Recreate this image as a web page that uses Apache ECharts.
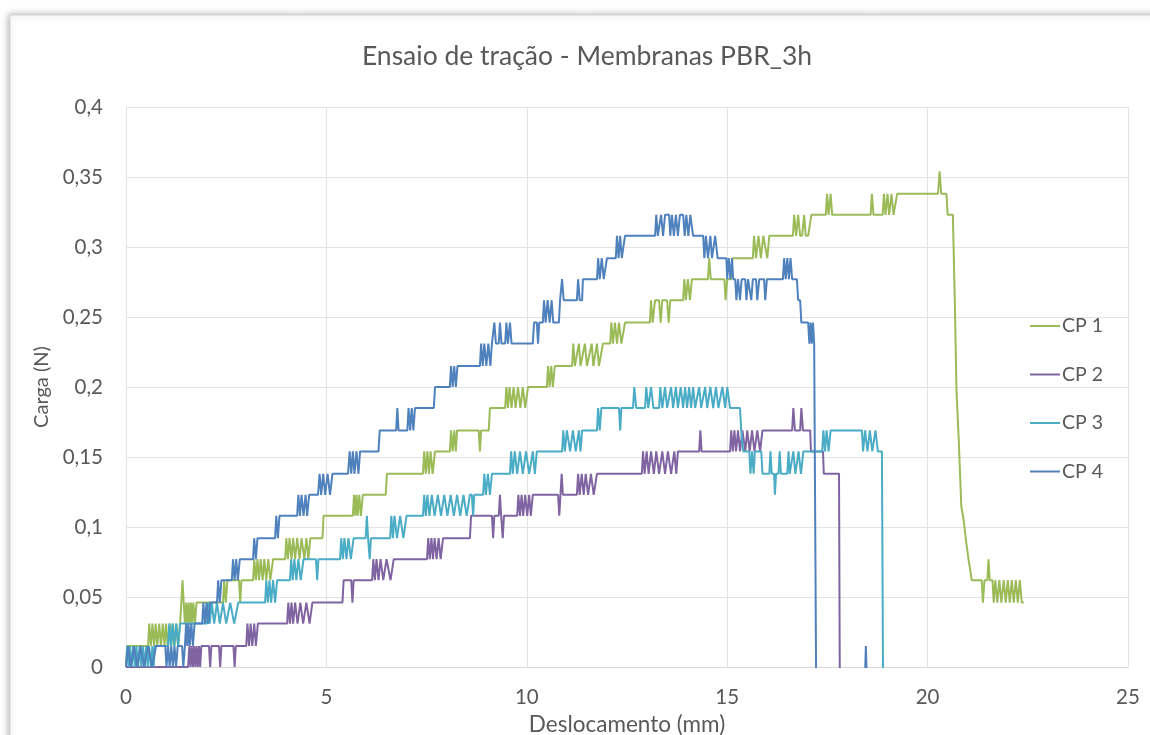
<!DOCTYPE html>
<html>
<head>
<meta charset="utf-8">
<script src="https://cdn.jsdelivr.net/npm/echarts@6/dist/echarts.min.js"></script>
<style>
html,body{margin:0;padding:0;background:#fff;}
#chart{width:1150px;height:735px;}
</style>
</head>
<body>
<div id="chart"></div>
<script>
var seriesNames = ['CP 1', 'CP 2', 'CP 3', 'CP 4'];
var xTicks = [0, 5, 10, 15, 20, 25];
var yTicks = [0, 0.05, 0.1, 0.15, 0.2, 0.25, 0.3, 0.35, 0.4];

var cp1 = [
[0,0],[0.03,0.015],
[0.55,0.015],[0.58,0.031],[0.62,0.015],[0.66,0.031],[0.7,0.015],[0.74,0.031],[0.78,0.015],[0.83,0.031],[0.87,0.015],[0.92,0.031],[0.96,0.015],[1.0,0.031],[1.04,0.015],[1.09,0.031],[1.13,0.015],[1.17,0.031],[1.21,0.015],[1.26,0.031],[1.3,0.015],[1.35,0.031],
[1.38,0.046],[1.41,0.062],[1.44,0.046],[1.47,0.031],[1.5,0.046],[1.53,0.031],[1.56,0.046],[1.59,0.031],[1.62,0.046],[1.65,0.031],[1.68,0.046],[1.72,0.031],[1.76,0.046],
[2.42,0.046],[2.45,0.062],[2.49,0.046],[2.53,0.062],[2.59,0.062],[2.82,0.062],[2.85,0.046],[2.88,0.062],
[3.17,0.062],[3.2,0.077],[3.24,0.062],[3.28,0.077],[3.32,0.062],[3.36,0.077],[3.41,0.062],[3.45,0.077],[3.5,0.062],[3.55,0.077],[3.6,0.062],[3.67,0.077],
[3.97,0.077],[4.0,0.092],[4.04,0.077],[4.08,0.092],[4.13,0.077],[4.17,0.092],[4.22,0.077],[4.27,0.092],[4.33,0.077],[4.38,0.092],[4.45,0.077],[4.5,0.092],[4.55,0.077],[4.6,0.092],[4.67,0.092],
[4.9,0.092],[4.93,0.108],
[5.66,0.108],[5.69,0.123],[5.72,0.108],[5.75,0.123],[5.78,0.108],[5.82,0.123],[5.86,0.108],[5.91,0.123],
[6.48,0.123],[6.51,0.138],
[7.41,0.138],[7.44,0.154],[7.48,0.138],[7.52,0.154],[7.56,0.138],[7.6,0.154],[7.65,0.138],[7.71,0.154],
[8.08,0.154],[8.11,0.169],[8.15,0.154],[8.19,0.169],[8.23,0.154],[8.26,0.169],
[8.8,0.169],[8.83,0.154],[8.86,0.169],[9.05,0.169],[9.08,0.185],
[9.46,0.185],[9.49,0.2],[9.53,0.185],[9.57,0.2],[9.62,0.185],[9.67,0.2],[9.72,0.185],[9.78,0.2],[9.84,0.185],[9.9,0.2],[9.96,0.185],[10.03,0.2],
[10.5,0.2],[10.53,0.215],[10.57,0.2],[10.61,0.215],[10.65,0.2],[10.7,0.215],[10.8,0.215],
[11.13,0.215],[11.16,0.231],[11.2,0.215],[11.3,0.231],[11.34,0.215],[11.45,0.231],[11.5,0.215],[11.62,0.231],[11.66,0.215],[11.75,0.231],[11.8,0.215],[11.9,0.231],
[12.08,0.231],[12.11,0.246],[12.15,0.231],[12.2,0.246],[12.25,0.231],[12.3,0.246],[12.36,0.231],[12.45,0.246],
[13.07,0.246],[13.1,0.262],[13.14,0.246],[13.2,0.262],[13.3,0.262],[13.34,0.246],[13.38,0.262],[13.5,0.262],[13.54,0.246],[13.58,0.262],
[13.9,0.262],[13.93,0.277],[13.97,0.262],[14.02,0.277],[14.07,0.262],[14.12,0.277],[14.2,0.277],
[14.52,0.277],[14.55,0.292],[14.59,0.277],[14.93,0.277],[14.96,0.262],[15.0,0.277],[15.1,0.277],[15.13,0.292],
[15.64,0.292],[15.67,0.308],[15.72,0.292],[15.78,0.308],[15.84,0.292],[15.9,0.308],[16.0,0.292],[16.05,0.308],[16.12,0.308],
[16.64,0.308],[16.67,0.323],[16.72,0.308],[16.77,0.323],[16.82,0.308],[16.87,0.308],[16.92,0.323],[16.96,0.308],[17.02,0.308],[17.1,0.323],
[17.46,0.323],[17.49,0.338],[17.53,0.323],[17.58,0.338],[17.62,0.323],
[18.58,0.323],[18.61,0.338],[18.65,0.323],
[18.88,0.323],[18.91,0.338],[18.95,0.323],[19.0,0.338],[19.04,0.323],[19.1,0.338],[19.15,0.323],[19.24,0.338],
[20.26,0.338],[20.3,0.354],[20.34,0.338],[20.47,0.338],[20.5,0.323],[20.63,0.323],
[20.68,0.26],[20.72,0.198],[20.78,0.16],[20.84,0.115],[20.9,0.105],[20.96,0.09],[21.02,0.077],[21.06,0.07],[21.1,0.062],
[21.35,0.062],[21.38,0.046],[21.42,0.062],[21.49,0.062],[21.52,0.077],[21.55,0.062],[21.62,0.062],[21.65,0.046],[21.69,0.062],[21.74,0.046],[21.79,0.062],[21.84,0.046],[21.9,0.062],[21.95,0.046],[22.0,0.062],[22.05,0.046],[22.1,0.062],[22.15,0.046],[22.2,0.062],[22.25,0.046],[22.3,0.062],[22.35,0.046],[22.4,0.046]
];

var cp2 = [
[0,0],[1.55,0],[1.58,0.015],[1.61,0],[1.64,0.015],[1.67,0],[1.7,0.015],[1.73,0],[1.76,0.015],[1.79,0],[1.82,0.015],[1.85,0],[1.88,0.015],
[2.07,0.015],[2.1,0],[2.13,0.015],[2.32,0.015],[2.35,0],[2.38,0.015],[2.68,0.015],[2.71,0],[2.74,0.015],
[3.0,0.015],[3.03,0.031],[3.07,0.015],[3.11,0.031],[3.15,0.015],[3.2,0.031],[3.24,0.015],[3.29,0.031],
[4.02,0.031],[4.05,0.046],[4.09,0.031],[4.13,0.046],[4.17,0.031],[4.22,0.046],[4.28,0.031],[4.35,0.046],[4.42,0.031],[4.5,0.046],[4.58,0.031],[4.65,0.046],[4.72,0.046],
[5.4,0.046],[5.43,0.062],[5.62,0.062],[5.65,0.046],[5.68,0.062],
[6.14,0.062],[6.17,0.077],[6.21,0.062],[6.25,0.077],[6.3,0.062],[6.35,0.077],[6.42,0.062],[6.5,0.077],[6.6,0.062],[6.68,0.077],[6.76,0.077],
[7.51,0.077],[7.54,0.092],[7.58,0.077],[7.62,0.092],[7.66,0.077],[7.7,0.092],[7.75,0.077],[7.8,0.092],[7.85,0.077],[7.91,0.092],
[8.58,0.092],[8.61,0.108],[8.66,0.108],
[9.13,0.108],[9.16,0.092],[9.19,0.108],[9.3,0.108],[9.33,0.123],[9.36,0.108],[9.4,0.092],[9.43,0.108],
[9.76,0.108],[9.79,0.123],[9.83,0.108],[9.87,0.123],[9.91,0.108],[9.96,0.123],[10.01,0.108],[10.06,0.123],[10.1,0.108],[10.15,0.123],
[10.78,0.123],[10.81,0.108],[10.84,0.123],[10.87,0.138],[10.9,0.123],
[11.25,0.123],[11.28,0.138],[11.32,0.123],[11.37,0.138],[11.42,0.123],[11.47,0.138],[11.53,0.123],[11.6,0.138],[11.67,0.123],[11.75,0.138],
[12.87,0.138],[12.9,0.154],[12.94,0.138],[12.99,0.154],[13.04,0.138],[13.1,0.154],[13.17,0.138],[13.23,0.154],[13.3,0.138],[13.38,0.154],[13.45,0.138],[13.52,0.154],[13.6,0.138],[13.68,0.154],[13.73,0.138],[13.77,0.154],
[14.3,0.154],[14.33,0.169],[14.36,0.154],
[15.07,0.154],[15.1,0.169],[15.14,0.154],[15.18,0.169],[15.22,0.154],[15.27,0.169],[15.32,0.154],[15.38,0.169],[15.45,0.154],[15.5,0.169],[15.56,0.154],[15.62,0.169],[15.68,0.154],[15.75,0.169],[15.82,0.154],[15.88,0.169],[15.94,0.169],
[16.62,0.169],[16.65,0.185],[16.69,0.169],[16.82,0.169],[16.85,0.185],[16.89,0.169],[17.07,0.169],[17.09,0.154],[17.39,0.154],[17.41,0.138],[17.79,0.138],[17.81,-0.015]
];

var cp3 = [
[0,0],[0.03,0.015],[0.07,0],[0.1,0.015],[0.14,0],[0.18,0.015],[0.22,0],[0.26,0.015],[0.3,0],[0.34,0.015],[0.38,0],[0.42,0.015],[0.46,0],[0.5,0.015],[0.54,0],[0.58,0.015],[0.62,0],[0.66,0.015],[0.69,0],[0.72,0.015],
[1.05,0.015],[1.08,0.031],[1.12,0.015],[1.16,0.031],[1.2,0.015],[1.25,0.031],[1.3,0.015],[1.35,0.031],[1.4,0.031],
[2.02,0.031],[2.05,0.046],[2.09,0.031],[2.14,0.046],[2.2,0.031],[2.27,0.046],[2.34,0.031],[2.42,0.046],[2.5,0.031],[2.6,0.046],[2.7,0.031],[2.8,0.046],[2.84,0.046],
[3.47,0.046],[3.5,0.062],[3.54,0.046],[3.58,0.062],[3.62,0.046],[3.67,0.062],[3.72,0.046],[3.77,0.062],
[4.09,0.062],[4.12,0.077],[4.16,0.062],[4.2,0.077],[4.25,0.062],[4.3,0.077],[4.36,0.062],[4.43,0.077],[4.52,0.077],
[4.74,0.077],[4.77,0.062],[4.8,0.077],
[5.34,0.077],[5.37,0.092],[5.41,0.077],[5.45,0.092],[5.5,0.077],[5.55,0.092],[5.61,0.077],[5.68,0.092],[5.76,0.092],
[5.98,0.092],[6.01,0.108],[6.04,0.092],[6.08,0.077],[6.11,0.092],
[6.59,0.092],[6.62,0.108],[6.66,0.092],[6.7,0.108],[6.76,0.092],[6.84,0.108],[6.92,0.092],[7.0,0.108],[7.09,0.108],
[7.41,0.108],[7.44,0.123],[7.48,0.108],[7.52,0.123],[7.57,0.108],[7.63,0.123],[7.7,0.108],[7.78,0.123],[7.86,0.108],[7.94,0.123],[8.02,0.108],[8.1,0.123],[8.18,0.108],[8.26,0.123],[8.34,0.108],[8.42,0.123],[8.5,0.108],[8.58,0.123],
[8.63,0.123],[8.66,0.108],[8.69,0.123],
[8.91,0.123],[8.94,0.138],[8.98,0.123],[9.03,0.138],[9.08,0.123],[9.13,0.138],
[9.58,0.138],[9.61,0.154],[9.65,0.138],[9.7,0.154],[9.76,0.138],[9.83,0.154],[9.9,0.138],[9.98,0.154],[10.06,0.138],[10.15,0.154],[10.2,0.138],[10.25,0.154],
[10.88,0.154],[10.91,0.169],[10.95,0.154],[11.0,0.169],[11.08,0.154],[11.15,0.169],[11.22,0.154],[11.3,0.169],[11.34,0.154],[11.38,0.169],
[11.75,0.169],[11.78,0.185],[11.82,0.169],[11.86,0.185],[11.9,0.185],
[12.3,0.185],[12.33,0.169],[12.36,0.185],
[12.65,0.185],[12.68,0.2],[12.73,0.185],[12.95,0.185],[12.98,0.2],[13.03,0.185],[13.1,0.2],[13.16,0.185],[13.3,0.185],[13.33,0.2],[13.38,0.185],[13.45,0.2],[13.5,0.185],[13.6,0.2],[13.65,0.185],[13.72,0.2],[13.77,0.185],[13.84,0.2],[13.9,0.185],[13.95,0.2],[14.0,0.185],[14.05,0.2],[14.1,0.185],[14.15,0.2],[14.2,0.185],[14.3,0.2],[14.35,0.185],[14.45,0.2],[14.5,0.185],[14.58,0.2],[14.65,0.185],[14.72,0.2],[14.78,0.185],[14.88,0.2],[14.95,0.185],[15.0,0.2],[15.07,0.185],
[15.32,0.185],[15.35,0.169],[15.4,0.154],[15.55,0.154],[15.58,0.138],[15.62,0.154],[15.66,0.138],[15.69,0.154],
[15.85,0.154],[15.88,0.138],[16.05,0.138],[16.08,0.154],[16.11,0.138],[16.17,0.138],[16.19,0.123],[16.22,0.138],[16.28,0.138],[16.31,0.154],[16.34,0.138],[16.5,0.138],[16.53,0.154],[16.56,0.138],[16.65,0.154],[16.7,0.138],[16.78,0.154],[16.84,0.138],[16.9,0.154],
[17.37,0.154],[17.4,0.169],[17.44,0.154],[17.48,0.169],[17.53,0.154],[17.58,0.169],[17.64,0.169],
[18.36,0.169],[18.39,0.154],[18.44,0.169],[18.5,0.154],[18.56,0.169],[18.62,0.154],[18.7,0.169],[18.76,0.154],[18.86,0.154],[18.89,-0.015]
];

var cp4 = [
[0,0],[0.05,0.015],[0.12,0],[0.2,0.015],[0.28,0],[0.36,0.015],[0.45,0],[0.55,0.015],[0.65,0],[0.75,0.015],
[0.98,0.015],[1.01,0],[1.05,0.015],[1.09,0],[1.13,0.015],[1.17,0],[1.21,0.015],[1.25,0],[1.29,0.015],
[1.4,0.015],[1.43,0],[1.47,0.015],[1.5,0.031],[1.53,0.015],[1.56,0.031],[1.59,0.015],[1.63,0.031],[1.67,0.015],[1.71,0.031],
[1.9,0.031],[1.93,0.046],[1.97,0.031],[2.01,0.046],[2.05,0.031],[2.1,0.046],[2.15,0.046],
[2.27,0.046],[2.3,0.062],[2.34,0.046],[2.38,0.062],
[2.64,0.062],[2.67,0.077],[2.71,0.062],[2.75,0.077],[2.79,0.062],[2.84,0.077],
[3.17,0.077],[3.2,0.092],[3.24,0.077],[3.28,0.092],
[3.72,0.092],[3.75,0.108],[3.79,0.092],[3.83,0.108],
[4.27,0.108],[4.3,0.123],[4.34,0.108],[4.38,0.123],[4.43,0.108],[4.48,0.123],[4.52,0.108],[4.57,0.123],
[4.79,0.123],[4.83,0.138],[4.87,0.123],[4.92,0.138],[4.97,0.123],[5.03,0.138],[5.09,0.123],[5.15,0.138],
[5.54,0.138],[5.58,0.154],[5.62,0.138],[5.66,0.154],[5.7,0.138],[5.75,0.154],[5.8,0.138],[5.84,0.154],
[6.3,0.154],[6.33,0.169],
[6.74,0.169],[6.77,0.185],[6.8,0.169],[7.02,0.169],[7.05,0.185],[7.09,0.169],[7.13,0.185],[7.17,0.169],[7.21,0.185],
[7.68,0.185],[7.71,0.2],
[8.08,0.2],[8.11,0.215],[8.15,0.2],[8.19,0.215],[8.23,0.2],[8.27,0.215],
[8.83,0.215],[8.86,0.231],[8.9,0.215],[8.94,0.231],[8.99,0.215],[9.04,0.231],[9.09,0.215],[9.13,0.231],
[9.16,0.231],[9.19,0.246],[9.23,0.231],[9.3,0.231],[9.33,0.246],[9.37,0.231],[9.46,0.231],[9.49,0.246],[9.53,0.231],[9.58,0.246],[9.62,0.231],
[10.15,0.231],[10.18,0.246],[10.25,0.246],[10.28,0.231],[10.31,0.246],
[10.4,0.246],[10.43,0.262],[10.47,0.246],[10.52,0.262],[10.57,0.246],[10.62,0.262],[10.66,0.246],
[10.8,0.246],[10.83,0.262],[10.88,0.277],[10.92,0.262],
[11.25,0.262],[11.28,0.277],[11.32,0.262],[11.38,0.262],[11.4,0.277],
[11.75,0.277],[11.78,0.292],[11.82,0.277],[11.87,0.292],[11.92,0.277],[12.0,0.292],
[12.22,0.292],[12.25,0.308],[12.29,0.292],[12.33,0.308],[12.37,0.292],[12.45,0.308],
[13.2,0.308],[13.23,0.323],[13.27,0.308],[13.35,0.323],[13.4,0.308],[13.45,0.323],[13.55,0.323],[13.58,0.308],[13.62,0.323],[13.67,0.308],[13.72,0.323],[13.77,0.308],[13.82,0.323],[13.9,0.323],[13.94,0.308],[13.98,0.323],[14.03,0.308],[14.08,0.323],[14.15,0.308],
[14.4,0.308],[14.43,0.292],[14.47,0.308],[14.52,0.292],[14.58,0.308],[14.62,0.292],[14.7,0.308],[14.76,0.292],[14.82,0.292],
[14.98,0.292],[15.0,0.277],[15.04,0.292],[15.08,0.277],[15.12,0.292],[15.15,0.277],
[15.2,0.277],[15.23,0.262],[15.27,0.277],[15.32,0.262],[15.36,0.277],[15.45,0.277],[15.48,0.262],[15.52,0.277],[15.6,0.262],[15.64,0.277],[15.72,0.277],[15.75,0.262],[15.8,0.277],[15.92,0.277],[15.95,0.262],[15.99,0.277],
[16.39,0.277],[16.42,0.292],[16.46,0.277],[16.5,0.292],[16.54,0.277],[16.58,0.292],[16.62,0.277],
[16.74,0.277],[16.77,0.262],[16.82,0.262],[16.85,0.246],
[17.02,0.246],[17.05,0.231],[17.08,0.246],[17.11,0.231],[17.14,0.246],[17.17,0.231],[17.2,0.231],[17.22,-0.015],
[18.43,-0.015],[18.46,0.015],[18.49,-0.015],[18.6,-0.015]
];

var colors = ['#9BBB59', '#8064A2', '#4BACC6', '#4F81BD'];
var dataSets = [cp1, cp2, cp3, cp4];
var FONT = 'Lato';
var TXT = '#595959';

var chart = echarts.init(document.getElementById('chart'), null, {renderer: 'canvas'});
chart.setOption({
  animation: false,
  backgroundColor: '#ffffff',
  graphic: [{
    type: 'rect', z: -100, silent: true,
    shape: {x: 10, y: 15, width: 1160, height: 740},
    style: {fill: '#ffffff', stroke: '#d4d4d4', lineWidth: 1, shadowBlur: 7, shadowColor: 'rgba(0,0,0,0.3)', shadowOffsetX: -1, shadowOffsetY: 0}
  }],
  title: {
    text: 'Ensaio de tração - Membranas PBR_3h',
    left: 587, top: 43, textAlign: 'center', padding: 0,
    textStyle: {fontFamily: FONT, fontSize: 26.5, fontWeight: 'normal', color: TXT}
  },
  legend: {
    orient: 'vertical', left: 1030, top: 316, padding: 0,
    icon: 'rect', itemWidth: 30, itemHeight: 2, itemGap: 28.5,
    data: seriesNames,
    textStyle: {fontFamily: FONT, fontSize: 19.5, color: TXT, padding: [0, 0, 0, -3]}
  },
  grid: {left: 126, top: 107, width: 1002, height: 560, containLabel: false, outerBoundsMode: 'none'},
  xAxis: {
    type: 'value', min: xTicks[0], max: xTicks[xTicks.length - 1], interval: 5,
    name: 'Deslocamento (mm)', nameLocation: 'middle', nameGap: 35,
    nameTextStyle: {fontFamily: FONT, fontSize: 22.5, color: TXT},
    axisLine: {show: true, lineStyle: {color: '#d9d9d9', width: 1}},
    axisTick: {show: false},
    axisLabel: {fontFamily: FONT, fontSize: 20.5, color: TXT, margin: 20},
    splitLine: {show: true, lineStyle: {color: '#e3e3e3', width: 1}}
  },
  yAxis: {
    type: 'value', min: yTicks[0], max: yTicks[yTicks.length - 1], interval: 0.05,
    name: 'Carga (N)', nameLocation: 'middle', nameGap: 68, nameRotate: 90,
    nameTextStyle: {fontFamily: FONT, fontSize: 20, color: TXT},
    axisLine: {show: true, lineStyle: {color: '#e3e3e3', width: 1}},
    axisTick: {show: false},
    axisLabel: {fontFamily: FONT, fontSize: 20.5, color: TXT, margin: 23,
      formatter: function (v) { return String(+v.toFixed(2)).replace('.', ','); }},
    splitLine: {show: true, lineStyle: {color: '#e3e3e3', width: 1}}
  },
  series: dataSets.map(function (d, i) {
    return {
      name: seriesNames[i], type: 'line', data: d,
      symbol: 'none', showSymbol: false, clip: true,
      lineStyle: {color: colors[i], width: 2},
      itemStyle: {color: colors[i]},
      z: 2 + i
    };
  })
});
</script>
</body>
</html>
